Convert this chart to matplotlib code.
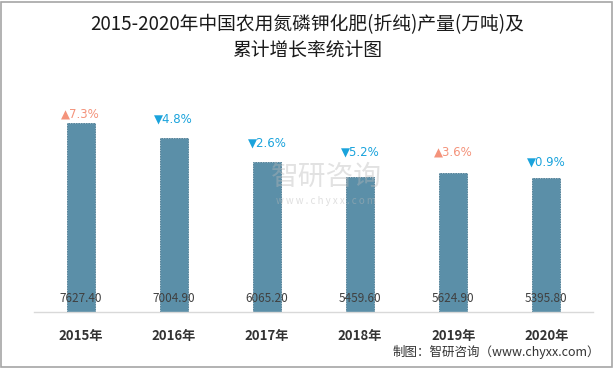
import matplotlib
matplotlib.use("Agg")
import matplotlib.pyplot as plt
from matplotlib.patches import Rectangle

plt.rcParams['font.family'] = ['Noto Sans CJK SC', 'DejaVu Sans']

years = ['2015年', '2016年', '2017年', '2018年', '2019年', '2020年']
production = [7627.40, 7004.90, 6065.20, 5459.60, 5624.90, 5395.80]
growth = [7.3, -4.8, -2.6, -5.2, 3.6, -0.9]

label_offsets_pt = [2, 9, 9, 13, 10, 7]

fig = plt.figure(figsize=(6.15, 3.68), dpi=100)
fig.patches.append(Rectangle((0.002, 0.004), 0.993, 0.99, transform=fig.transFigure,
                             fill=False, edgecolor='#a6a6a6', linewidth=1.2))

ax = fig.add_axes([34/615, 1-312/368, (593-34)/615, (312-89)/368])
x = list(range(len(years)))
ax.bar(x, production, width=0.3, color='#5b8fa8', edgecolor='#4a7a92',
       linewidth=0.6, linestyle=(0, (2, 1)), zorder=2)
ax.set_xlim(-0.5, len(years) - 0.5)
ax.set_ylim(0, 9000)
ax.set_yticks([])
for s in ['top', 'right', 'left']:
    ax.spines[s].set_visible(False)
ax.spines['bottom'].set_color('#d9d9d9')
ax.spines['bottom'].set_linewidth(1.0)
ax.set_xticks(x)
ax.set_xticklabels(years, fontsize=9.5, fontweight='bold', color='#333333')
ax.tick_params(axis='x', length=0, pad=12)

for xi, v in zip(x, production):
    ax.text(xi, 560, f'{v:.2f}', ha='center', va='center', fontsize=8.5,
            color='#404040', zorder=3)

for xi, v, g, off in zip(x, production, growth, label_offsets_pt):
    if g >= 0:
        s, c = f'▲{g:.1f}%', '#f4937b'
    else:
        s, c = f'▼{abs(g):.1f}%', '#1aa3dc'
    ax.annotate(s, (xi, v), xytext=(0, off), textcoords='offset points',
                ha='center', va='bottom', fontsize=8.5, color=c,
                family=['DejaVu Sans'])

# watermark
fig.text(0.53, 0.52, '智研咨询', ha='center', va='center', fontsize=20,
         color='#b8b8b8', alpha=0.4, zorder=10)
fig.text(0.53, 0.455, 'w w w . c h y x x . c o m', ha='center', va='center',
         fontsize=7, color='#b8b8b8', alpha=0.45, zorder=10)

fig.text(0.5, 1-25/368, '2015-2020年中国农用氮磷钾化肥(折纯)产量(万吨)及', ha='center',
         va='center', fontsize=13.5, color='#1a1a1a')
fig.text(0.5, 1-50/368, '累计增长率统计图', ha='center', va='center',
         fontsize=13.5, color='#1a1a1a')

fig.text(600/615, 1-352/368, '制图：智研咨询（www.chyxx.com）', ha='right',
         va='center', fontsize=9, color='#333333')

fig.savefig('out.png', dpi=100)
